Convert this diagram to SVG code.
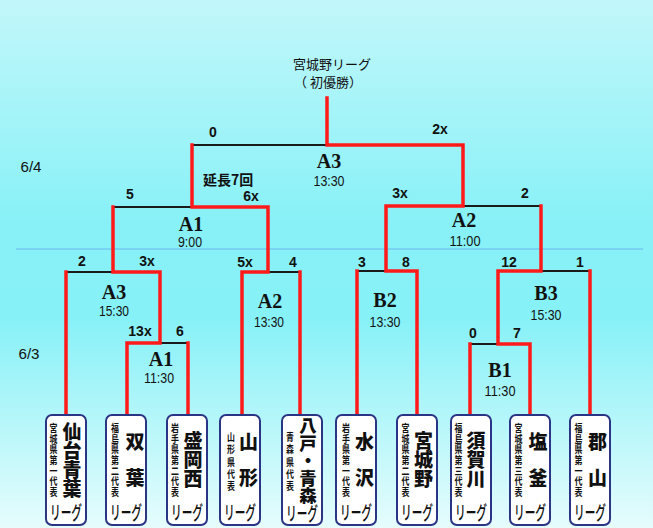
<svg xmlns="http://www.w3.org/2000/svg" width="653" height="528" viewBox="0 0 653 528">
<defs>
<linearGradient id="bg" x1="0" y1="0" x2="0" y2="1">
<stop offset="0" stop-color="#c2f7fa"/>
<stop offset="0.42" stop-color="#88f1f7"/>
<stop offset="0.6" stop-color="#86f1f7"/>
<stop offset="1" stop-color="#e6fcfd"/>
</linearGradient>
<style>
.blk{fill:none;stroke:#1a1a1a;stroke-width:2}
.red{fill:none;stroke:#ff1a1a;stroke-width:3.5;stroke-linejoin:miter;stroke-linecap:square}
.box{fill:#ffffff;stroke:#2b3585;stroke-width:2}
.sc{font-family:"Liberation Sans",Arial,sans-serif;font-weight:bold;font-size:14px;fill:#111;text-anchor:middle}
.lb{font-family:"Liberation Serif","Times New Roman",serif;font-weight:bold;font-size:20px;fill:#111;text-anchor:middle}
.tm{font-family:"Liberation Sans",Arial,sans-serif;font-size:15.5px;fill:#111;text-anchor:middle}
.dt{font-family:"Liberation Sans",Arial,sans-serif;font-size:14px;fill:#111;text-anchor:middle}
.jp{font-family:"Noto Sans CJK JP",sans-serif;font-size:13px;fill:#111;text-anchor:middle}
.jpb{font-family:"Noto Sans CJK JP",sans-serif;font-weight:bold;font-size:14px;fill:#111}
.vs{font-family:"Noto Sans CJK JP",sans-serif;font-weight:bold;font-size:10.6px;fill:#111;writing-mode:vertical-rl}
.vl{font-family:"Noto Sans CJK JP",sans-serif;font-weight:900;font-size:19px;fill:#111;writing-mode:vertical-rl}
.lg{font-family:"Noto Sans CJK JP",sans-serif;font-weight:500;font-size:19px;fill:#111;text-anchor:middle}
</style>
</defs>
<rect x="0" y="0" width="653" height="528" fill="url(#bg)"/>
<line x1="16" y1="249" x2="643" y2="249" stroke="#66b8ee" stroke-width="1"/>

<g id="titles">
<text class="jp" x="332" y="69">宮城野リーグ</text>
<text class="jp" x="328" y="87">（ 初優勝）</text>
<text class="dt" x="31" y="172" textLength="21" lengthAdjust="spacingAndGlyphs">6/4</text>
<text class="dt" x="29" y="359" textLength="21" lengthAdjust="spacingAndGlyphs">6/3</text>
<text class="jpb" x="203" y="185">延長7回</text>
</g>

<g id="connectors">
<path class="blk" d="M192,145H327 M113,207H192 M463,206H541 M66,272H113 M268,272H300 M357,271H386 M541,271H590 M160,343H188 M470,344H498"/>
<path class="red" d="M417,415V271H386V206H463V145H327V98"/>
<path class="red" d="M66,415V272"/>
<path class="red" d="M127,415V343H160V272H113V207"/>
<path class="red" d="M188,415V343"/>
<path class="red" d="M242,415V272H268V207H192V145"/>
<path class="red" d="M300,415V272"/>
<path class="red" d="M357,415V271"/>
<path class="red" d="M470,415V344"/>
<path class="red" d="M530,415V344H498V271H541V206"/>
<path class="red" d="M590,415V271"/>
</g>

<g id="scores">
<text class="sc" x="213" y="137">0</text>
<text class="sc" x="440" y="134">2x</text>
<text class="sc" x="130" y="199">5</text>
<text class="sc" x="251" y="201">6x</text>
<text class="sc" x="400" y="198">3x</text>
<text class="sc" x="525" y="198">2</text>
<text class="sc" x="82" y="266">2</text>
<text class="sc" x="147" y="266">3x</text>
<text class="sc" x="245" y="267">5x</text>
<text class="sc" x="293" y="267">4</text>
<text class="sc" x="362" y="267">3</text>
<text class="sc" x="406" y="267">8</text>
<text class="sc" x="509" y="267">12</text>
<text class="sc" x="580" y="267">1</text>
<text class="sc" x="140" y="336">13x</text>
<text class="sc" x="180" y="336">6</text>
<text class="sc" x="473" y="338">0</text>
<text class="sc" x="517" y="338">7</text>
</g>

<g id="matches">
<text class="lb" x="329" y="168">A3</text><text class="tm" x="329" y="186" textLength="31" lengthAdjust="spacingAndGlyphs">13:30</text>
<text class="lb" x="191" y="231">A1</text><text class="tm" x="190" y="247" textLength="24" lengthAdjust="spacingAndGlyphs">9:00</text>
<text class="lb" x="464" y="227">A2</text><text class="tm" x="465" y="246" textLength="31" lengthAdjust="spacingAndGlyphs">11:00</text>
<text class="lb" x="114" y="299">A3</text><text class="tm" x="114" y="316" textLength="30" lengthAdjust="spacingAndGlyphs">15:30</text>
<text class="lb" x="270" y="308">A2</text><text class="tm" x="269" y="327" textLength="30" lengthAdjust="spacingAndGlyphs">13:30</text>
<text class="lb" x="385" y="307">B2</text><text class="tm" x="385" y="327" textLength="31" lengthAdjust="spacingAndGlyphs">13:30</text>
<text class="lb" x="546" y="300">B3</text><text class="tm" x="546" y="320" textLength="31" lengthAdjust="spacingAndGlyphs">15:30</text>
<text class="lb" x="161" y="366">A1</text><text class="tm" x="159" y="383" textLength="30" lengthAdjust="spacingAndGlyphs">11:30</text>
<text class="lb" x="500" y="377">B1</text><text class="tm" x="500" y="396" textLength="31" lengthAdjust="spacingAndGlyphs">11:30</text>
</g>

<g id="team1">
<rect class="box" x="46" y="415" width="40" height="110" rx="6"/>
<g transform="translate(53.5 0) scale(0.75 1)"><text class="vs" x="0" y="423">宮城県第一代表</text></g>
<text class="vl" x="72" y="422">仙台青葉</text>
<text class="lg" x="66" y="520" textLength="32" lengthAdjust="spacingAndGlyphs">リーグ</text>
</g>
<g id="team2">
<rect class="box" x="106" y="415" width="40" height="110" rx="6"/>
<g transform="translate(115 0) scale(0.75 1)"><text class="vs" x="0" y="423">福島県第二代表</text></g>
<text class="vl" x="135" y="432.5" letter-spacing="17">双葉</text>
<text class="lg" x="126" y="520" textLength="32" lengthAdjust="spacingAndGlyphs">リーグ</text>
</g>
<g id="team3">
<rect class="box" x="167" y="415" width="40" height="110" rx="6"/>
<g transform="translate(175 0) scale(0.75 1)"><text class="vs" x="0" y="423">岩手県第二代表</text></g>
<text class="vl" x="193" y="431">盛岡西</text>
<text class="lg" x="187" y="520" textLength="32" lengthAdjust="spacingAndGlyphs">リーグ</text>
</g>
<g id="team4">
<rect class="box" x="220" y="415" width="40" height="110" rx="6"/>
<g transform="translate(231 0) scale(0.75 1)"><text class="vs" x="0" y="432" letter-spacing="1.6">山形県代表</text></g>
<text class="vl" x="248.5" y="432.5" letter-spacing="17">山形</text>
<text class="lg" x="240" y="520" textLength="32" lengthAdjust="spacingAndGlyphs">リーグ</text>
</g>
<g id="team5">
<rect class="box" x="282" y="415" width="40" height="110" rx="6"/>
<g transform="translate(290 0) scale(0.75 1)"><text class="vs" x="0" y="432" letter-spacing="1.6">青森県代表</text></g>
<text class="vl" x="308" y="417" style="font-size:17.5px">八戸・青森</text>
<text class="lg" x="302" y="521" textLength="32" lengthAdjust="spacingAndGlyphs">リーグ</text>
</g>
<g id="team6">
<rect class="box" x="336" y="415" width="40" height="110" rx="6"/>
<g transform="translate(346 0) scale(0.75 1)"><text class="vs" x="0" y="423">岩手県第一代表</text></g>
<text class="vl" x="364.5" y="432.5" letter-spacing="17">水沢</text>
<text class="lg" x="356" y="520" textLength="32" lengthAdjust="spacingAndGlyphs">リーグ</text>
</g>
<g id="team7">
<rect class="box" x="397" y="415" width="40" height="110" rx="6"/>
<g transform="translate(405.5 0) scale(0.75 1)"><text class="vs" x="0" y="423">宮城県第二代表</text></g>
<text class="vl" x="423.5" y="431">宮城野</text>
<text class="lg" x="417" y="520" textLength="32" lengthAdjust="spacingAndGlyphs">リーグ</text>
</g>
<g id="team8">
<rect class="box" x="451" y="415" width="40" height="110" rx="6"/>
<g transform="translate(458.5 0) scale(0.75 1)"><text class="vs" x="0" y="423">福島県第三代表</text></g>
<text class="vl" x="476" y="431">須賀川</text>
<text class="lg" x="471" y="520" textLength="32" lengthAdjust="spacingAndGlyphs">リーグ</text>
</g>
<g id="team9">
<rect class="box" x="510" y="415" width="40" height="110" rx="6"/>
<g transform="translate(518.5 0) scale(0.75 1)"><text class="vs" x="0" y="423">宮城県第三代表</text></g>
<text class="vl" x="538" y="432.5" letter-spacing="17">塩釜</text>
<text class="lg" x="530" y="520" textLength="32" lengthAdjust="spacingAndGlyphs">リーグ</text>
</g>
<g id="team10">
<rect class="box" x="570" y="415" width="40" height="110" rx="6"/>
<g transform="translate(578.5 0) scale(0.75 1)"><text class="vs" x="0" y="423">福島県第一代表</text></g>
<text class="vl" x="597.5" y="432.5" letter-spacing="17">郡山</text>
<text class="lg" x="590" y="520" textLength="32" lengthAdjust="spacingAndGlyphs">リーグ</text>
</g>
</svg>
